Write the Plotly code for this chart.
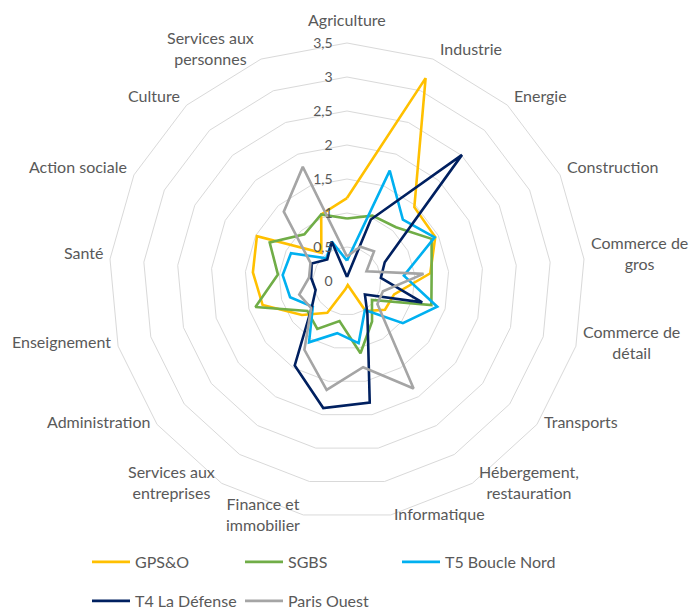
import math
import plotly.graph_objects as go

categories = [
    "Agriculture", "Industrie", "Energie", "Construction", "Commerce de<br>gros",
    "Commerce de<br>détail", "Transports", "Hébergement,<br>restauration", "Informatique",
    "Finance et<br>immobilier", "Services aux<br>entreprises", "Administration",
    "Enseignement", "Santé", "Action sociale", "Culture", "Services aux<br>personnes",
]

gpso = [1.22, 3.2, 1.47, 1.45, 1.23, 0.72, 0.7, 0.52, 0.06, 0.12, 0.55, 0.83, 1.29, 1.39, 1.48, 0.56, 1.05]
sgbs = [0.92, 1.03, 1.07, 1.39, 1.25, 1.29, 0.46, 0.7, 1.08, 0.6, 0.83, 0.73, 1.4, 1.02, 1.27, 0.93, 1.05]
t5_boucle_nord = [0.3, 1.74, 1.22, 1.44, 0.84, 1.38, 1.03, 0.5, 0.93, 0.78, 1.06, 0.63, 0.87, 0.95, 0.92, 0.45, 0.62]
t4_la_defense = [0.06, 0.97, 2.51, 0.62, 0.5, 1.15, 0.33, 0.57, 1.82, 1.9, 1.46, 0.65, 0.48, 0.53, 0.58, 0.43, 0.62]
paris_ouest = [0.36, 0.54, 0.59, 0.32, 1.13, 0.55, 0.56, 1.86, 1.29, 1.63, 1.19, 0.66, 0.73, 0.56, 0.6, 1.38, 1.8]

series = [
    ("GPS&O", gpso, "#FFC000", "legend"),
    ("SGBS", sgbs, "#70AD47", "legend"),
    ("T5 Boucle Nord", t5_boucle_nord, "#00B0F0", "legend3"),
    ("T4 La Défense", t4_la_defense, "#002060", "legend2"),
    ("Paris Ouest", paris_ouest, "#A5A5A5", "legend2"),
]

TXT = "#595959"
GRID = "#D9D9D9"
FONT = "Lato, Open Sans, sans-serif"

fig = go.Figure()
for name, vals, color, leg in series:
    fig.add_trace(go.Scatterpolar(
        r=vals + vals[:1],
        theta=categories + categories[:1],
        mode="lines",
        name=name,
        line=dict(color=color, width=2.6),
        legend=leg,
    ))

W, H = 694, 613
cx, cy, rad = 347, 281, 238

# category labels placed next to each polygon vertex, Excel style
annotations = []
n = len(categories)
for k, cat in enumerate(categories):
    a = math.radians(k * 360 / n)
    s, c = math.sin(a), math.cos(a)
    vx, vy = cx + rad * s, cy - rad * c
    gap = 5 if abs(s) > 0.3 else 1
    if k == 0:
        anchor, dx, dy = "center", 0, 23
    elif s > 0:
        anchor, dx, dy = "left", gap, 6 + 5 * c
    else:
        anchor, dx, dy = "right", -gap, 6 + 5 * c
    annotations.append(dict(
        text=cat, xref="paper", yref="paper",
        x=vx / W, y=1 - vy / H, xanchor=anchor, yanchor="middle",
        xshift=dx, yshift=dy, align="center", showarrow=False,
        font=dict(family=FONT, size=16, color=TXT),
    ))

legend_common = dict(
    orientation="h",
    xanchor="left",
    yanchor="middle",
    itemwidth=38,
    font=dict(family=FONT, size=16, color=TXT),
    bgcolor="rgba(0,0,0,0)",
    tracegroupgap=0,
)

fig.update_layout(
    width=W,
    height=H,
    margin=dict(l=0, r=0, t=0, b=0, autoexpand=False),
    paper_bgcolor="white",
    separators=", ",
    font=dict(family=FONT, size=14, color=TXT),
    annotations=annotations,
    polar=dict(
        domain=dict(
            x=[(cx - rad) / W, (cx + rad) / W],
            y=[(H - cy - rad) / H, (H - cy + rad) / H],
        ),
        bgcolor="white",
        gridshape="linear",
        radialaxis=dict(
            range=[0, 3.5],
            dtick=0.5,
            angle=90,
            tickangle=90,
            side="counterclockwise",
            showline=False,
            ticks="outside",
            ticklen=9,
            tickcolor="rgba(0,0,0,0)",
            gridcolor=GRID,
            gridwidth=1,
            tickfont=dict(family=FONT, size=14, color=TXT),
        ),
        angularaxis=dict(
            direction="clockwise",
            rotation=90,
            showgrid=False,
            showline=True,
            linecolor=GRID,
            linewidth=1,
            ticks="",
            showticklabels=False,
        ),
    ),
    legend=dict(x=87 / W, y=1 - 562 / H, entrywidth=100, **legend_common),
    legend3=dict(x=397 / W, y=1 - 562 / H, entrywidth=150, **legend_common),
    legend2=dict(x=87 / W, y=1 - 601 / H, entrywidth=100, **legend_common),
)

fig.write_html(
    "out.html",
    config={"displayModeBar": False},
    post_script="document.body.style.margin='0';",
)
